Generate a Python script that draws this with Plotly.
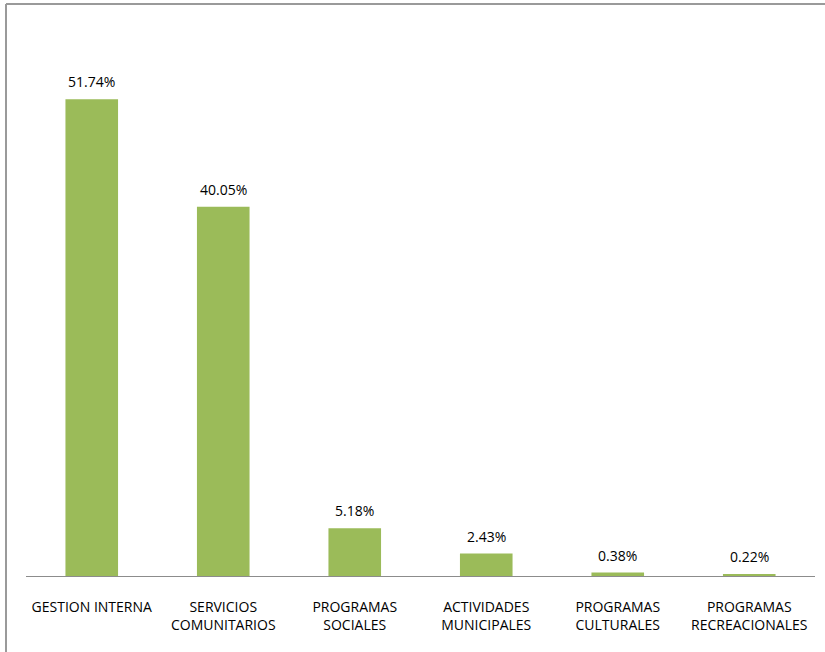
import plotly.graph_objects as go

categories = ["GESTION INTERNA", "SERVICIOS<br>COMUNITARIOS", "PROGRAMAS<br>SOCIALES",
              "ACTIVIDADES<br>MUNICIPALES", "PROGRAMAS<br>CULTURALES", "PROGRAMAS<br>RECREACIONALES"]
values = [51.74, 40.05, 5.18, 2.43, 0.38, 0.22]
value_labels = ["51.74%", "40.05%", "5.18%", "2.43%", "0.38%", "0.22%"]

fig = go.Figure(go.Bar(
    x=categories, y=values,
    marker=dict(color="#9BBB59", line=dict(width=0)),
    width=0.40,
    hoverinfo="x+y",
))

for c, v, t in zip(categories, values, value_labels):
    fig.add_annotation(x=c, y=v, text=t, showarrow=False, yanchor="bottom",
                       yshift=6, font=dict(size=14, color="#000000"))

L, R, T, B = 26, 10, 23, 76
W, H = 825, 652
pw, ph = W - L - R, H - T - B
def px(x):
    return (x - L) / pw
def py(y):
    return (H - B - y) / ph

fig.update_layout(
    width=W, height=H,
    margin=dict(l=L, r=R, t=T, b=B),
    paper_bgcolor="white", plot_bgcolor="white",
    showlegend=False,
    font=dict(family="Open Sans", size=14, color="#000000"),
    xaxis=dict(showline=True, linecolor="#8c8c8c", linewidth=1, ticks="",
               showgrid=False, tickfont=dict(size=14), ticklabelstandoff=18),
    yaxis=dict(range=[0, 60], visible=False, showgrid=False, zeroline=False),
    shapes=[
        dict(type="line", xref="paper", yref="paper", x0=px(6), x1=px(826), y0=py(4), y1=py(4),
             line=dict(color="#9a9a9a", width=2)),
        dict(type="line", xref="paper", yref="paper", x0=px(6), x1=px(6), y0=py(4), y1=py(653),
             line=dict(color="#9a9a9a", width=2)),
    ],
)

fig.write_html("out.html", config={"displayModeBar": False},
               post_script="document.body.style.margin='0';document.body.style.overflow='hidden';")
